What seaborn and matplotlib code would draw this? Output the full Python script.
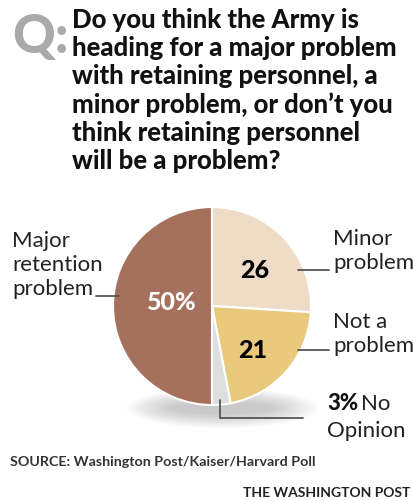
import matplotlib
matplotlib.use("Agg")
import matplotlib.pyplot as plt
import seaborn as sns
from matplotlib.patches import Ellipse

# ---- data ----
categories = ["Minor problem", "Not a problem", "No Opinion", "Major retention problem"]
values = [26, 21, 3, 50]
inner_labels = ["26", "21", "", "50%"]
colors_hex = ["#efdcc6", "#e9c97b", "#dedede", "#a6715c"]
question = ("Do you think the Army is\nheading for a major problem\nwith retaining personnel, a\n"
            "minor problem, or don\u2019t you\nthink retaining personnel\nwill be a problem?")
source = "SOURCE: Washington Post/Kaiser/Harvard Poll"
credit = "THE WASHINGTON POST"

sns.set_theme(style="white")
FAM = ["Lato", "DejaVu Sans"]
plt.rcParams["font.family"] = FAM

W, H = 414, 501
fig = plt.figure(figsize=(W / 100, H / 100), dpi=100)
ax = fig.add_axes([0, 0, 1, 1])
ax.set_xlim(0, W)
ax.set_ylim(0, H)
ax.set_aspect("equal", adjustable="box")
ax.axis("off")

def Y(y):
    return H - y

palette = sns.color_palette(colors_hex)

# shadow under pie
for i in range(12):
    ax.add_patch(Ellipse((222, Y(408)), 190 - i * 8, 40 - i * 2.5, color="#777777",
                         alpha=0.035, lw=0, zorder=1))

cx, cy, r = 212, Y(306), 99
wedges, _ = ax.pie(values, colors=palette, startangle=90, counterclock=False,
                   center=(cx, cy), radius=r, frame=True,
                   wedgeprops=dict(edgecolor="white", linewidth=1.5))
for w in wedges:
    w.set_zorder(3)
ax.set_xlim(0, W)
ax.set_ylim(0, H)
ax.axis("off")

# Q: mark
ax.text(12, Y(37), "Q:", fontsize=38, fontweight="black", color="#aaaaaa",
        va="center", ha="left")
# question
ax.text(72, Y(8), question, fontsize=18.5, fontweight="black", color="#111111",
        va="top", ha="left", linespacing=1.2)

# inner labels
ax.text(171, Y(303), inner_labels[3], fontsize=18, fontweight="black", color="white",
        ha="center", va="center", zorder=5)
ax.text(255, Y(271), inner_labels[0], fontsize=18, fontweight="black", color="black",
        ha="center", va="center", zorder=5)
ax.text(253, Y(351), inner_labels[1], fontsize=18, fontweight="black", color="black",
        ha="center", va="center", zorder=5)

lab_kw = dict(fontsize=16, color="#222222", va="center", ha="left", linespacing=1.25)
ax.text(12, Y(265), "Major\nretention\nproblem", **lab_kw)
ax.text(333, Y(251), "Minor\nproblem", **lab_kw)
ax.text(333, Y(334), "Not a\nproblem", **lab_kw)
ax.text(327, Y(404), "3%", fontsize=16, fontweight="black", color="#111111", va="center", ha="left")
ax.text(361, Y(404), "No", **lab_kw)
ax.text(327, Y(431), "Opinion", **lab_kw)

# leader lines
lc = dict(color="#555555", lw=1.3, zorder=6)
ax.plot([96, 119], [Y(296), Y(296)], **lc)
ax.plot([298, 329], [Y(270), Y(270)], **lc)
ax.plot([298, 329], [Y(350), Y(350)], **lc)
ax.plot([220, 220, 303], [Y(400), Y(418), Y(418)], **lc)

ax.text(10, Y(462), source, fontsize=10.3, fontweight="bold", color="#333333", va="center", ha="left")
ax.text(410, Y(493), credit, fontsize=10, fontweight="bold", color="#222222", va="center", ha="right")

fig.savefig("out.png", dpi=100)
